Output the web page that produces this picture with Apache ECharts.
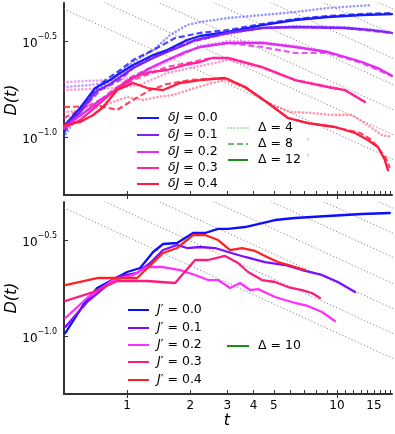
<!DOCTYPE html>
<html><head><meta charset="utf-8">
<script src="https://cdn.jsdelivr.net/npm/echarts@6/dist/echarts.min.js"></script>
<style>html,body{margin:0;padding:0;background:#fff}#c{width:395px;height:434px}</style>
</head><body><div id="c"></div><script>
// ---------- data: [t, D(t)] ----------
// top panel, Δ = 12 (solid)
const dJ00_d12 = [[0.5,0.1146],[0.597,0.1422],[0.704,0.1808],[0.83,0.199],[0.926,0.2165],[1.068,0.238],[1.33,0.2687],[1.551,0.285],[1.931,0.3215],[2.227,0.3374],[3.027,0.354],[4.395,0.3848],[6.31,0.4088],[9.06,0.4237],[13.15,0.434],[18.3,0.439]];
const dJ01_d12 = [[0.5,0.1133],[0.597,0.1356],[0.704,0.1723],[0.83,0.1897],[1.068,0.2298],[1.33,0.2592],[1.551,0.2785],[1.931,0.3065],[2.108,0.3215],[3.027,0.3499],[4.395,0.3713],[6.31,0.3758],[10.9,0.3713],[14.3,0.3627],[18.3,0.3499]];
const dJ02_d12 = [[0.5,0.1133],[0.597,0.1294],[0.744,0.1567],[0.926,0.1808],[1.068,0.2039],[1.287,0.2298],[1.551,0.2529],[1.888,0.2785],[2.227,0.2957],[3.027,0.3103],[4.395,0.3103],[6.31,0.2957],[9.06,0.2785],[13.15,0.247],[15.67,0.2298],[18.3,0.2093]];
const dJ03_d12 = [[0.5,0.112],[0.597,0.1232],[0.744,0.1511],[0.896,0.1808],[1.068,0.2063],[1.287,0.219],[1.551,0.2244],[1.888,0.2383],[2.227,0.247],[2.54,0.2592],[3.027,0.2592],[4.395,0.2326],[6.31,0.199],[9.06,0.183],[10.9,0.1765],[13.6,0.1529]];
const dJ04_d12 = [[0.5,0.116],[0.597,0.1203],[0.689,0.1308],[0.769,0.144],[0.896,0.1765],[1.068,0.192],[1.245,0.1808],[1.484,0.1765],[1.788,0.192],[2.227,0.199],[2.93,0.2039],[3.647,0.183],[4.692,0.1511],[5.843,0.1262],[7.27,0.1188],[9.78,0.1133],[12.2,0.1054],[14.05,0.097],[15.67,0.0891],[16.93,0.0762],[17.5,0.0676]];
// top panel, Δ = 8 (dashed)
const dJ00_d8 = [[0.5,0.1054],[0.597,0.1422],[0.744,0.1897],[0.926,0.2244],[1.068,0.2529],[1.33,0.285],[1.693,0.3293],[2.227,0.3499],[3.027,0.3627],[4.395,0.3895],[6.31,0.4136],[9.06,0.4287],[13.15,0.4392],[18.3,0.4446]];
const dJ01_d8 = [[0.5,0.1093],[0.597,0.1356],[0.744,0.1765],[0.926,0.199],[1.068,0.2298],[1.33,0.2623],[1.931,0.3103],[3.027,0.3499],[4.395,0.3713],[6.31,0.3758],[10.9,0.3713],[18.3,0.3499]];
const dJ02_d8 = [[0.5,0.1146],[0.667,0.1422],[0.83,0.1723],[1.068,0.2089],[1.287,0.2298],[1.551,0.2529],[2.227,0.2957],[3.027,0.3103],[4.395,0.2957],[6.31,0.2752],[9.06,0.2752],[13.15,0.244],[18.3,0.2089]];
const dJ03_d8 = [[0.5,0.1262],[0.744,0.1567],[0.896,0.1765],[1.068,0.199],[1.551,0.2326],[1.931,0.244],[2.54,0.2592],[3.027,0.2592],[4.395,0.2326],[6.31,0.199],[9.06,0.183],[10.9,0.1765],[13.6,0.1529]];
const dJ04_d8 = [[0.5,0.144],[0.744,0.1457],[0.896,0.139],[1.068,0.1567],[1.287,0.1765],[1.551,0.1897],[1.995,0.199],[2.48,0.2014],[2.93,0.2039],[3.647,0.183],[4.692,0.1511],[5.843,0.1262],[7.27,0.1188],[9.78,0.1133],[12.9,0.1054],[14.68,0.097],[16.0,0.0859],[17.11,0.0782],[17.87,0.0693]];
// top panel, Δ = 4 (dotted)
const dJ00_d4 = [[0.5,0.1005],[0.597,0.1356],[0.744,0.1808],[0.926,0.219],[1.068,0.247],[1.33,0.285],[1.602,0.3415],[1.931,0.3848],[2.227,0.399],[3.027,0.4188],[4.395,0.434],[6.31,0.4498],[9.06,0.472],[14.68,0.4893]];
const dJ01_d4 = [[0.5,0.183],[0.667,0.1875],[0.786,0.192],[0.926,0.211],[1.068,0.2354],[1.33,0.2655],[1.931,0.3139],[3.027,0.3455],[4.395,0.3713],[6.31,0.3802],[10.9,0.3758],[18.3,0.354]];
const dJ02_d4 = [[0.5,0.1943],[0.83,0.199],[1.068,0.2039],[1.287,0.2244],[1.551,0.247],[2.227,0.2992],[3.027,0.3177],[4.395,0.3139],[6.31,0.2992],[9.06,0.2785],[13.15,0.247],[18.3,0.2089]];
const dJ03_d4 = [[0.5,0.1765],[0.896,0.1808],[1.153,0.1875],[1.551,0.2165],[2.227,0.2354],[3.027,0.2529],[4.395,0.2298],[6.31,0.199],[9.06,0.1852],[10.9,0.1765]];
const dJ04_d4 = [[0.5,0.1356],[0.667,0.139],[0.83,0.1511],[1,0.1623],[1.192,0.1567],[1.389,0.1623],[1.656,0.1663],[2.108,0.1808],[2.54,0.192],[2.93,0.199],[3.647,0.1808],[4.692,0.1511],[5.98,0.1356],[7.6,0.134],[9.26,0.131],[11.79,0.131],[14.68,0.112],[16.38,0.1029],[18.3,0.1005]];
// bottom panel, Δ = 10
const Jp00 = [[0.507,0.1041],[0.617,0.1457],[0.72,0.1787],[1,0.2165],[1.153,0.2271],[1.33,0.2752],[1.484,0.3029],[1.73,0.3065],[2.062,0.3455],[2.352,0.3455],[2.713,0.3627],[3.027,0.3627],[3.647,0.3713],[5.07,0.4038],[6.31,0.4136],[9.06,0.4237],[13.15,0.434],[17.87,0.4392]];
const Jp01 = [[0.507,0.112],[0.645,0.1511],[0.896,0.2039],[1.116,0.2139],[1.287,0.2411],[1.484,0.2818],[1.73,0.2992],[1.931,0.2886],[2.227,0.2921],[2.625,0.2886],[3.027,0.2752],[3.647,0.2592],[4.54,0.244],[5.654,0.2354],[6.81,0.2217],[8.48,0.2089],[10.1,0.192],[12.2,0.1702]];
const Jp02 = [[0.507,0.1247],[0.645,0.1585],[0.858,0.1966],[1.068,0.2089],[1.245,0.2298],[1.484,0.2298],[1.788,0.2217],[2.108,0.2089],[2.43,0.1966],[2.713,0.1966],[3.094,0.1786],[3.453,0.1897],[3.853,0.1744],[4.206,0.1765],[5.07,0.1604],[6.31,0.1493],[7.27,0.144],[8.48,0.134],[9.78,0.1203]];
const Jp03 = [[0.507,0.1529],[0.689,0.1702],[0.896,0.1943],[1.245,0.1943],[1.693,0.1897],[2.108,0.25],[2.43,0.25],[2.93,0.2623],[3.379,0.2411],[3.77,0.2165],[4.395,0.1966],[5.07,0.192],[5.843,0.1808],[6.81,0.1744],[7.6,0.1683],[8.3,0.1585]];
const Jp04 = [[0.507,0.1852],[0.72,0.2014],[0.858,0.2014],[1.116,0.2014],[1.484,0.2719],[1.73,0.2886],[2.062,0.3374],[2.352,0.3374],[2.713,0.3177],[3.094,0.2818],[3.528,0.2886],[4.07,0.2785],[4.642,0.2592],[5.236,0.244],[6.105,0.2326],[7.04,0.2217]];
// dotted guide lines D ∝ t^(-1/2): endpoints
const guides = [
  [[0.5,0.4667],[20,0.0738]],
  [[0.5,0.6293],[20,0.0995]],
  [[0.5,0.8485],[20,0.1342]],
  [[0.5,1.1455],[20,0.1811]],
  [[0.5,1.5698],[20,0.2482]],
  [[0.5,2.0930],[20,0.3310]],
  [[0.5,2.8284],[20,0.4472]]
];
const xTickLabels = [1,2,3,4,5,10,15];
const xMajorTicks = [1,10];
const xMinorTicks = [1,2,3,4,5,6,7,8,9,10,11,12,13,14,15,16,17,18];
const yTicks = [0.1, 0.316228];
const topLabels = ['0.0','0.1','0.2','0.3','0.4'];
const deltaLabels = ['4','8','12'];
const botLabels = ['0.0','0.1','0.2','0.3','0.4'];

const topColors = ['#1a1aff','#7f22ff','#e02cf2','#ff2299','#ff1a40'];
const botColors = ['#0d0dff','#7f0dff','#ff30ff','#ff1a80','#ff2222'];
const FONT = 'DejaVu Sans';

const chart = echarts.init(document.getElementById('c'), null, {renderer:'canvas'});
const G = [{left:64, top:3, width:328, height:192},{left:64, top:202, width:328, height:192}];

const xAxes = [], yAxes = [];
function addX(grid, opts){ xAxes.push(Object.assign({type:'log', logBase:10, min:0.5, max:18.3, gridIndex:grid, splitLine:{show:false}, axisLine:{show:false}, axisTick:{show:false}, axisLabel:{show:false}}, opts)); return xAxes.length-1; }
function addY(grid, opts){ yAxes.push(Object.assign({type:'log', logBase:10, min:0.0501187, max:0.501187, gridIndex:grid, splitLine:{show:false}, axisLine:{show:false}, axisTick:{show:false}, axisLabel:{show:false}}, opts)); return yAxes.length-1; }

const xi = [], yi = [];
for (let g = 0; g < 2; g++) {
  xi[g] = addX(g, {position:'bottom', axisLine:{show:true, onZero:false, lineStyle:{color:'#333', width:2}},
    axisTick:{show:true, customValues:xMajorTicks, inside:false, length:4, lineStyle:{color:'#333', width:1}},
    axisLabel: g === 1 ? {show:true, customValues:xTickLabels, formatter:v=>String(Math.round(v)), color:'#000', fontFamily:FONT, fontSize:12, margin:6} : {show:false}});
  addX(g, {position:'bottom', axisTick:{show:true, customValues:xMinorTicks, inside:true, length:4, lineStyle:{color:'#333', width:1}}});
  yi[g] = addY(g, {position:'left', axisLine:{show:true, onZero:false, lineStyle:{color:'#333', width:2}},
    axisTick:{show:true, customValues:yTicks, inside:true, length:4, lineStyle:{color:'#333', width:1}},
    axisLabel:{show:true, customValues:yTicks, margin:7,
      formatter:v => v > 0.2 ? '{b|10}{s|\u22120.5}' : '{b|10}{s|\u22121.0}',
      rich:{b:{fontFamily:FONT, fontSize:12, color:'#000', verticalAlign:'bottom', lineHeight:17},
            s:{fontFamily:FONT, fontSize:8, color:'#000', verticalAlign:'top', lineHeight:17}}}});
}

const series = [];
function line(data, g, color, style){
  const ls = {color:color, width:2.3, cap:'round', join:'round'};
  let op = 1;
  if (style === 'dotted') { ls.type = [0.1, 3.6]; ls.width = 2.6; op = 0.45; }
  else if (style === 'dashed') { ls.type = [6, 3]; ls.width = 2.2; ls.cap = 'butt'; op = 0.8; }
  else if (style === 'guide') { ls.type = [1.2, 2.2]; ls.width = 1; ls.cap = 'butt'; op = 0.9; }
  ls.opacity = op;
  series.push({type:'line', xAxisIndex:xi[g], yAxisIndex:yi[g], data:data, showSymbol:false, symbol:'none',
    lineStyle:ls, silent:true, animation:false, clip:true, z: style==='guide'?1:(style==='solid'?4:3)});
}
for (const gl of guides) { line(gl, 0, '#7a7a7a', 'guide'); line(gl, 1, '#7a7a7a', 'guide'); }
const topD4 = [dJ00_d4,dJ01_d4,dJ02_d4,dJ03_d4,dJ04_d4];
const topD8 = [dJ00_d8,dJ01_d8,dJ02_d8,dJ03_d8,dJ04_d8];
const topD12 = [dJ00_d12,dJ01_d12,dJ02_d12,dJ03_d12,dJ04_d12];
const bot = [Jp00,Jp01,Jp02,Jp03,Jp04];
for (let i = 0; i < 5; i++) line(topD4[i], 0, topColors[i], 'dotted');
for (let i = 0; i < 5; i++) line(topD8[i], 0, topColors[i], 'dashed');
for (let i = 0; i < 5; i++) line(topD12[i], 0, topColors[i], 'solid');
for (let i = 0; i < 5; i++) line(bot[i], 1, botColors[i], 'solid');

// legends (graphic)
const graphic = [];
function legLine(x1, x2, y, color, dash, width, op){
  graphic.push({type:'line', shape:{x1:x1, y1:y, x2:x2, y2:y}, style:{stroke:color, lineWidth:width||2, lineDash:dash||null, opacity:op==null?1:op, lineCap:dash&&dash[0]<1?'round':'butt'}, z:10});
}
function legText(x, y, txt){
  graphic.push({type:'text', x:x, y:y, style:{text:txt, fill:'#000', font:'12.5px "'+FONT+'"', verticalAlign:'middle', align:'left',
    rich:{i:{fontFamily:FONT, fontSize:12.5, fontStyle:'italic', fill:'#000'}, n:{fontFamily:FONT, fontSize:12.5, fill:'#000'}}}, z:10});
}
const topRows = [118,135,152,168,184];
for (let i = 0; i < 5; i++) { legLine(137, 159, topRows[i], topColors[i]); legText(168, topRows[i], '{i|\u03b4J}{n| = '+topLabels[i]+'}'); }
const dRows = [128,144,160];
legLine(228, 248, dRows[0], '#7fcf7f', [0.1,3.2], 2.2, 0.7); legText(258, dRows[0], '{n|\u0394 = '+deltaLabels[0]+'}');
legLine(228, 248, dRows[1], '#4fae4f', [6,3], 2, 0.85); legText(258, dRows[1], '{n|\u0394 = '+deltaLabels[1]+'}');
legLine(228, 248, dRows[2], '#1f8a1f', null, 2, 1); legText(258, dRows[2], '{n|\u0394 = '+deltaLabels[2]+'}');
// faint legend artefacts in the reference
graphic.push({type:'line', shape:{x1:308, y1:138, x2:308, y2:141}, style:{stroke:'#9fd89f', lineWidth:1}});
graphic.push({type:'line', shape:{x1:308, y1:153, x2:308, y2:157}, style:{stroke:'#9fd89f', lineWidth:1}});
const botRows = [310,328,345,362,380];
for (let i = 0; i < 5; i++) { legLine(128, 149, botRows[i], botColors[i]); legText(157, botRows[i], '{i|J}{n|\u2032 = '+botLabels[i]+'}'); }
legLine(227, 249, 346, '#1f8a1f', null, 2, 1); legText(258, 346, '{n|\u0394 = 10}');
// axis titles
graphic.push({type:'text', x:12, y:100, rotation:Math.PI/2, style:{text:'D(t)', font:'italic 16px "'+FONT+'"', fill:'#000', align:'center', verticalAlign:'middle'}});
graphic.push({type:'text', x:12, y:298, rotation:Math.PI/2, style:{text:'D(t)', font:'italic 16px "'+FONT+'"', fill:'#000', align:'center', verticalAlign:'middle'}});
graphic.push({type:'text', x:227, y:421, style:{text:'t', font:'italic 16px "'+FONT+'"', fill:'#000', align:'center', verticalAlign:'middle'}});

chart.setOption({animation:false, backgroundColor:'#fff', grid:G, xAxis:xAxes, yAxis:yAxes, series:series, graphic:graphic});
</script></body></html>
